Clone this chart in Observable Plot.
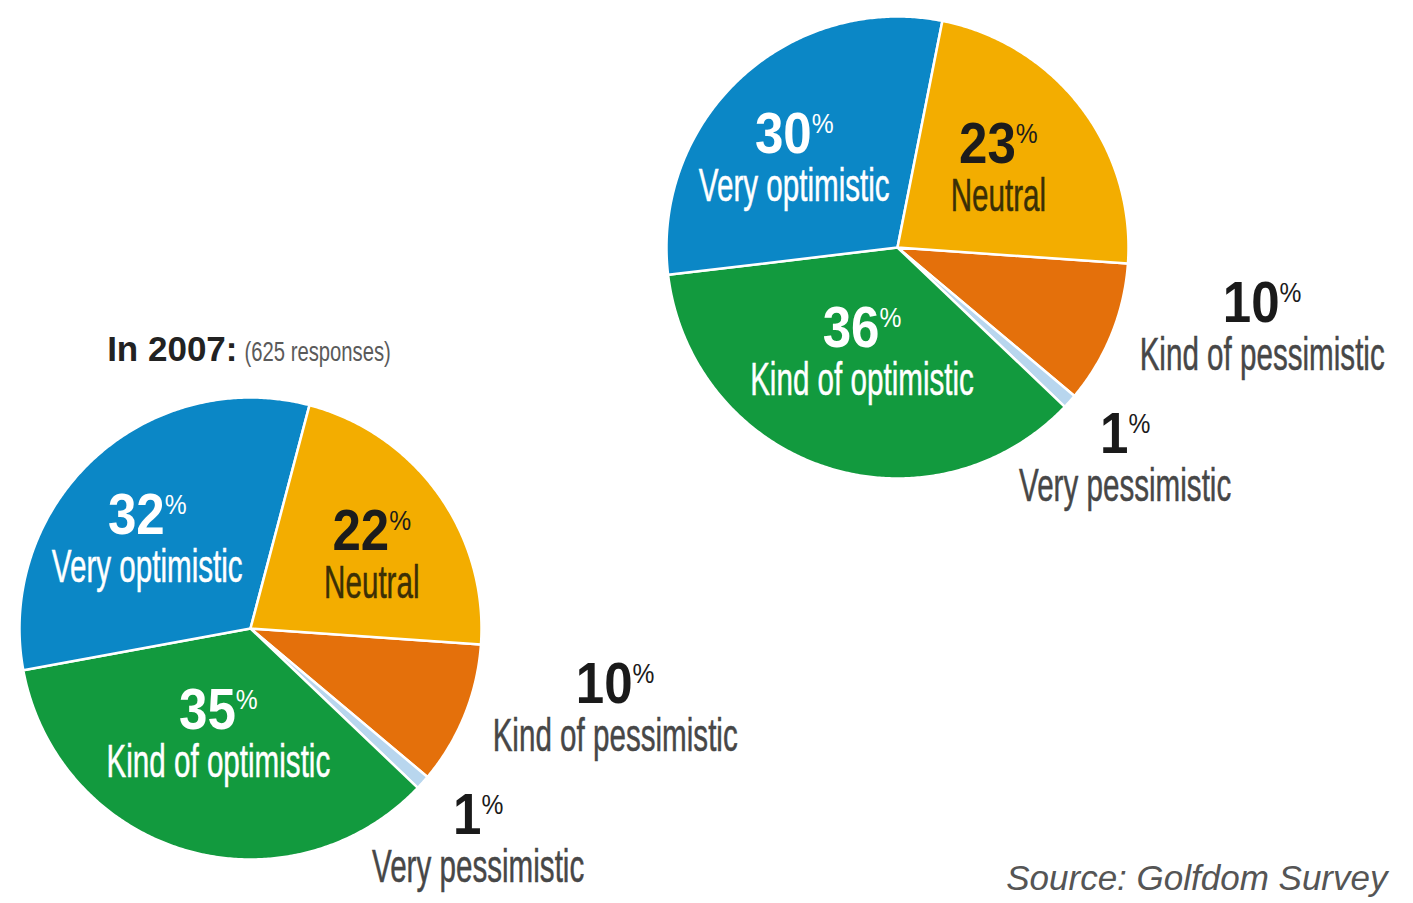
<!DOCTYPE html>
<html>
<head>
<meta charset="utf-8">
<script src="https://cdn.jsdelivr.net/npm/d3@7"></script>
<script src="https://cdn.jsdelivr.net/npm/@observablehq/plot@0.6"></script>
<style>
  body { margin: 0; background: #fff; }
  #chart svg { display: block; }
</style>
</head>
<body>
<div id="chart"></div>
<script>
// ---------------- DATA ----------------
// Slice order, clockwise from the start angle
const categories = ["Kind of pessimistic", "Very pessimistic", "Kind of optimistic", "Very optimistic", "Neutral"];
// Upper-right pie (its heading is cropped off the top of the image)
const valuesLatest = [10, 1, 36, 30, 23];
// Lower-left pie: In 2007 (625 responses)
const values2007 = [10, 1, 35, 32, 22];
const year2007 = "2007";
const responses2007 = 625;
const sourceText = "Source: Golfdom Survey";

// ---------------- LAYOUT / STYLE ----------------
const W = 1413, H = 903;
const R = 231;
const START = 94; // degrees clockwise from 12 o'clock
const pies = [
  { name: "latest", values: valuesLatest, cx: 897, cy: 247, header: null },
  { name: "2007", values: values2007, cx: 250, cy: 628, header: { year: year2007, responses: responses2007 } }
];
const sliceColors = {
  "Kind of pessimistic": "#e4700b",
  "Very pessimistic": "#b8d6ee",
  "Kind of optimistic": "#129a3e",
  "Very optimistic": "#0b87c6",
  "Neutral": "#f3ad00"
};
const labelLayout = {
  "Very optimistic":     { f: 0.575, dx: -13, dy: 10,  num: "#ffffff", txt: "#ffffff" },
  "Neutral":             { f: 0.55,  dx: 0,   dy: 0,   num: "#1c1c1c", txt: "#3b2f06" },
  "Kind of optimistic":  { f: 0.487, dx: 0,   dy: 0,   num: "#ffffff", txt: "#ffffff" },
  "Kind of pessimistic": { f: 1.6,   dx: 22,  dy: -57, num: "#1a1a1a", txt: "#474747" },
  "Very pessimistic":    { f: 1.38,  dx: -10, dy: 0,   num: "#1a1a1a", txt: "#474747" }
};
const nudge = { "2007|Neutral": { dx: 18, dy: 2 } };

const sans = "'Liberation Sans', Arial, Helvetica, sans-serif";

// ---------------- GEOMETRY ----------------
const rad = a => a * Math.PI / 180;
const slicePts = [];
const labels = [];
const headers = [];
for (const p of pies) {
  let a = START;
  const total = d3.sum(p.values);
  p.values.forEach((v, i) => {
    const cat = categories[i];
    const a0 = a, a1 = a + v / total * 360;
    a = a1;
    const key = p.name + "|" + cat;
    const fill = sliceColors[cat];
    slicePts.push({ key, fill, x: p.cx, y: p.cy });
    const n = Math.max(2, Math.ceil((a1 - a0) / 0.5));
    for (let k = 0; k <= n; k++) {
      const t = rad(a0 + (a1 - a0) * k / n);
      slicePts.push({ key, fill, x: p.cx + R * Math.sin(t), y: p.cy - R * Math.cos(t) });
    }
    slicePts.push({ key, fill, x: p.cx, y: p.cy });
    const L = labelLayout[cat];
    const nd = nudge[key] || { dx: 0, dy: 0 };
    const mid = rad((a0 + a1) / 2);
    labels.push({
      cat, value: v, num: L.num, txt: L.txt,
      x: p.cx + R * L.f * Math.sin(mid) + L.dx + nd.dx,
      y: p.cy - R * L.f * Math.cos(mid) + L.dy + nd.dy
    });
  });
  if (p.header) headers.push({ ...p.header, x: p.cx, y: p.cy - R - 40 });
}

// ---------------- CHART ----------------
const chart = Plot.plot({
  width: W, height: H, margin: 0,
  x: { domain: [0, W], range: [0, W], axis: null },
  y: { domain: [0, H], range: [0, H], axis: null },
  color: { type: "identity" },
  style: { background: "white", overflow: "visible" },
  marks: [
    Plot.line(slicePts, { x: "x", y: "y", z: "key", fill: "fill", stroke: "white", strokeWidth: 2.5, strokeLinejoin: "round" }),
    Plot.text(labels, { x: "x", y: "y", text: d => String(d.value), fill: "num", dy: -7, lineAnchor: "bottom",
      fontSize: 58, fontWeight: "bold", fontFamily: sans }),
    Plot.text(labels, { x: "x", y: "y", text: "cat", fill: "txt", dy: 41, lineAnchor: "bottom",
      fontSize: 47, fontFamily: sans }),
    Plot.text(headers, { x: "x", y: "y", text: d => `In ${d.year}:`, textAnchor: "end", dx: -13, dy: 3, lineAnchor: "bottom",
      fontSize: 35, fontWeight: "bold", fontFamily: sans, fill: "#222" }),
    Plot.text(headers, { x: "x", y: "y", text: d => `(${d.responses} responses)`, textAnchor: "start", dx: -6, dy: 3, lineAnchor: "bottom",
      fontSize: 27, fontFamily: sans, fill: "#5a5a5a" }),
    Plot.text([sourceText], { x: W - 26, y: H - 14, text: d => d, textAnchor: "end", lineAnchor: "bottom",
      fontSize: 35, fontStyle: "italic", fontFamily: sans, fill: "#555" })
  ]
});
document.getElementById("chart").appendChild(chart);

// ---------------- POST: condense text, superscript % ----------------
const groups = Array.from(chart.querySelectorAll(":scope > g"));
const [gSlices, gPct, gCat, gHdr, gResp, gSrc] = groups;
function squeeze(g, s, extra) {
  if (!g) return;
  g.querySelectorAll("text").forEach(t => {
    const tr = t.getAttribute("transform");
    if (tr) t.setAttribute("transform", tr + ` scale(${s},1)`);
    else {
      const x = +(t.getAttribute("x") || 0), y = +(t.getAttribute("y") || 0);
      t.removeAttribute("x"); t.removeAttribute("y");
      t.setAttribute("transform", `translate(${x},${y}) scale(${s},1)`);
    }
    if (extra) extra(t);
  });
}
if (gPct) gPct.querySelectorAll("text").forEach(t => {
  const v = t.textContent;
  t.textContent = "";
  const a = document.createElementNS("http://www.w3.org/2000/svg", "tspan");
  a.textContent = v;
  const b = document.createElementNS("http://www.w3.org/2000/svg", "tspan");
  b.textContent = "%";
  b.setAttribute("font-size", "28");
  b.setAttribute("font-weight", "normal");
  b.setAttribute("dy", "-20");
  t.appendChild(a); t.appendChild(b);
});
squeeze(gPct, 0.88);
squeeze(gCat, 0.63, t => { t.setAttribute("stroke", t.getAttribute("fill") || "#474747"); t.setAttribute("stroke-width", "0.5"); });
squeeze(gResp, 0.75);
</script>
</body>
</html>
